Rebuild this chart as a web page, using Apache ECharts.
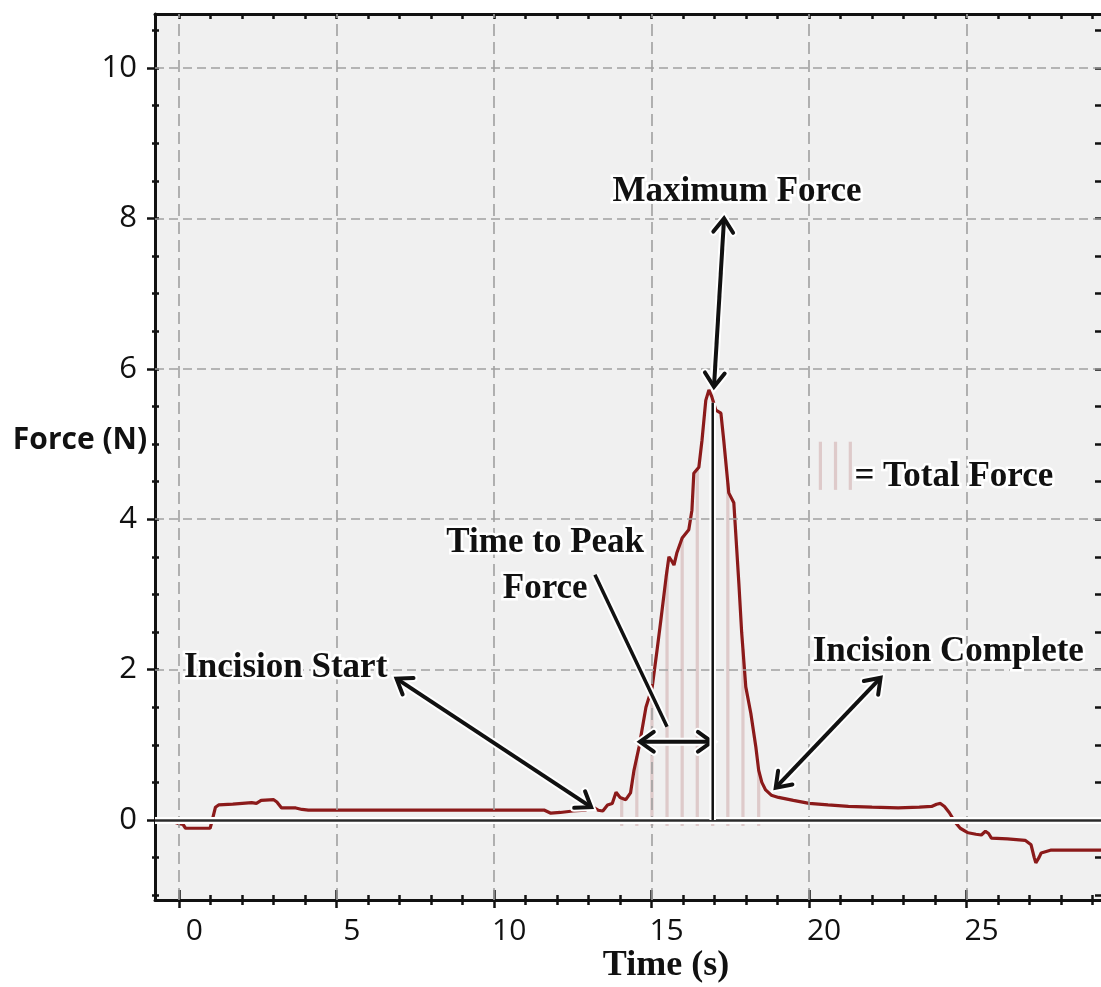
<!DOCTYPE html>
<html>
<head>
<meta charset="utf-8">
<title>Force (N) vs Time (s)</title>
<script src="https://cdn.jsdelivr.net/npm/echarts@6/dist/echarts.min.js"></script>
<style>
  html, body { margin: 0; padding: 0; background: #ffffff; }
  #chart { width: 1101px; height: 987px; }
</style>
</head>
<body>
<div id="chart"></div>
<script>
// ---- Recorded force trace (time in s, force in N) ----
const timeS = [
  -0.77, -0.45, -0.15, 0.0, 0.12, 0.2, 0.98, 1.05, 1.15, 1.25,
  1.7, 2.0, 2.3, 2.45, 2.6, 3.0, 3.1, 3.25, 3.7, 3.9,
  4.1, 11.6, 11.8, 12.1, 12.5, 12.9, 13.1, 13.3, 13.45, 13.6,
  13.75, 13.87, 14.0, 14.18, 14.33, 14.44, 14.6, 14.82, 15.02, 15.17,
  15.3, 15.46, 15.55, 15.63, 15.71, 15.8, 15.97, 16.18, 16.28, 16.34,
  16.5, 16.6, 16.72, 16.82, 16.91, 17.04, 17.2, 17.29, 17.45, 17.61,
  17.67, 17.77, 17.86, 17.99, 18.15, 18.31, 18.4, 18.5, 18.62, 18.8,
  19.03, 19.5, 20.0, 20.6, 21.25, 22.0, 22.83, 23.5, 23.89, 24.05,
  24.17, 24.3, 24.45, 24.64, 24.8, 25.05, 25.3, 25.47, 25.6, 25.7,
  25.79, 26.3, 26.86, 27.05, 27.15, 27.2, 27.3, 27.37, 27.69, 29.27
];
const forceN = [
  0.02, 0.0, -0.03, -0.05, -0.06, -0.11, -0.11, 0.0, 0.17, 0.2,
  0.21, 0.22, 0.23, 0.22, 0.26, 0.27, 0.24, 0.16, 0.16, 0.14,
  0.13, 0.13, 0.09, 0.1, 0.12, 0.13, 0.18, 0.13, 0.12, 0.2,
  0.22, 0.37, 0.3, 0.27, 0.36, 0.66, 0.97, 1.5, 1.77, 2.25,
  2.68, 3.23, 3.5, 3.45, 3.39, 3.55, 3.75, 3.86, 4.12, 4.61,
  4.69, 5.05, 5.58, 5.72, 5.63, 5.45, 5.41, 5.05, 4.35, 4.22,
  3.82, 3.15, 2.49, 1.77, 1.42, 0.97, 0.66, 0.5, 0.4, 0.33,
  0.3, 0.26, 0.22, 0.2, 0.18, 0.17, 0.16, 0.17, 0.18, 0.21,
  0.22, 0.18, 0.1, -0.03, -0.11, -0.17, -0.19, -0.2, -0.15, -0.18,
  -0.24, -0.25, -0.27, -0.33, -0.5, -0.57, -0.5, -0.44, -0.4, -0.4
];

// ---- "Total Force" hatching under the peak: time, force reached, foot ----
const hatchTimes  = [14.05, 14.53, 15.01, 15.49, 15.97, 16.45, 16.94, 17.42, 17.9, 18.4];
const hatchTops   = [0.29, 0.85, 1.76, 3.32, 3.75, 4.67, 5.58, 4.48, 2.27, 0.66];
const hatchFoot   = -0.08;

// ---- Axis ticks ----
const xMajorTicks = [0, 5, 10, 15, 20, 25];
const xMinorTicks = [0, 1, 2, 3, 4, 5, 6, 7, 8, 9, 10, 11, 12, 13, 14, 15, 16, 17, 18, 19, 20, 21, 22, 23, 24, 25, 26, 27, 28, 29];
const yMajorTicks = [0, 2, 4, 6, 8, 10];
const yMinorTicks = [-1, -0.5, 0, 0.5, 1, 1.5, 2, 2.5, 3, 3.5, 4, 4.5, 5, 5.5, 6, 6.5, 7, 7.5, 8, 8.5, 9, 9.5, 10, 10.5];

const X_MIN = -0.77, X_MAX = 29.27;
const Y_MIN = -1.064, Y_MAX = 10.718;

// ---- Annotation arrows: [t1, f1, t2, f2, headAtStart, headAtEnd, width] ----
const arrowSegments = [
  [17.30, 8.00, 16.98, 5.76, 1, 1, 4],   // Maximum Force
  [6.90, 1.88, 13.08, 0.17, 1, 1, 4],    // Incision Start
  [13.20, 3.26, 15.49, 1.24, 0, 0, 3.5], // Time to Peak leader
  [14.63, 1.04, 16.91, 1.04, 1, 1, 4],   // Time to Peak span
  [22.27, 1.89, 18.94, 0.43, 1, 1, 4],   // Incision Complete
  [16.94, 0.0, 16.94, 5.55, 0, 0, 2.5]   // peak marker
];

// ---- Annotation texts ----
const noteTexts  = ['Maximum Force', 'Time to Peak\nForce', 'Incision Start', 'Incision Complete', '= Total Force'];
const noteTimes  = [17.71, 11.62, 3.38, 24.42, 21.44];
const noteForces = [8.35, 3.38, 2.02, 2.23, 4.56];
const noteAligns = ['center', 'center', 'center', 'center', 'left'];

// ---- Key glyph for the hatching: [t, top, bottom] ----
const keyLines = [[20.36, 5.03, 4.39], [20.84, 5.03, 4.39], [21.31, 5.03, 4.39]];

const INK = '#111111';
const SERIF = '"Liberation Serif", "Times New Roman", serif';
const SANS = '"Open Sans", "Liberation Sans", sans-serif';

function chevron(tip, from, len, ang) {
  const dx = tip[0] - from[0], dy = tip[1] - from[1];
  const L = Math.hypot(dx, dy) || 1;
  const bx = -dx / L, by = -dy / L;
  const c = Math.cos(ang), s = Math.sin(ang);
  const a = [tip[0] + len * (bx * c - by * s), tip[1] + len * (bx * s + by * c)];
  const b = [tip[0] + len * (bx * c + by * s), tip[1] + len * (-bx * s + by * c)];
  return [a, tip.slice(), b];
}

function renderArrow(params, api) {
  const row = arrowSegments[params.dataIndex];
  const p1 = api.coord([api.value(0), api.value(1)]);
  const p2 = api.coord([api.value(2), api.value(3)]);
  const w = row[6];
  const heads = [];
  if (row[4]) heads.push(chevron(p1, p2, 17, 0.62));
  if (row[5]) heads.push(chevron(p2, p1, 17, 0.62));
  const children = [];
  [['#ffffff', w + 4], [INK, w]].forEach(([col, lw]) => {
    children.push({
      type: 'line',
      shape: { x1: p1[0], y1: p1[1], x2: p2[0], y2: p2[1] },
      style: { stroke: col, lineWidth: lw, lineCap: 'butt' }
    });
    heads.forEach(pts => children.push({
      type: 'polyline',
      shape: { points: pts },
      style: { stroke: col, lineWidth: lw, fill: null, lineJoin: 'miter', lineCap: 'round' }
    }));
  });
  return { type: 'group', children };
}

function renderHatch(params, api) {
  const top = api.coord([api.value(0), api.value(1)]);
  const bot = api.coord([api.value(0), api.value(2)]);
  return {
    type: 'line',
    shape: { x1: top[0], y1: top[1], x2: bot[0], y2: bot[1] },
    style: { stroke: 'rgba(185, 120, 122, 0.32)', lineWidth: 3.2 }
  };
}

function renderNote(params, api) {
  const i = params.dataIndex;
  const p = api.coord([api.value(0), api.value(1)]);
  return {
    type: 'text',
    x: p[0],
    y: p[1],
    style: {
      text: noteTexts[i],
      font: 'bold 35px ' + SERIF,
      fill: INK,
      stroke: '#ffffff',
      lineWidth: 5,
      align: noteAligns[i],
      verticalAlign: 'middle',
      lineHeight: 46
    }
  };
}

const curve = timeS.map((t, i) => [t, forceN[i]]);
const hatchData = hatchTimes.map((t, i) => [t, hatchTops[i], hatchFoot]);
const noteData = noteTimes.map((t, i) => [t, noteForces[i]]);

function xAxisBase(extra) {
  return Object.assign({
    type: 'value', gridIndex: 0, min: X_MIN, max: X_MAX, position: 'bottom',
    axisLine: { show: false, onZero: false },
    axisTick: { show: false },
    axisLabel: { show: false },
    splitLine: { show: false }
  }, extra);
}
function yAxisBase(extra) {
  return Object.assign({
    type: 'value', gridIndex: 0, min: Y_MIN, max: Y_MAX, position: 'left',
    axisLine: { show: false, onZero: false },
    axisTick: { show: false },
    axisLabel: { show: false },
    splitLine: { show: false }
  }, extra);
}
const tickStyle = { color: INK, width: 2.5 };

const option = {
  backgroundColor: '#ffffff',
  animation: false,
  grid: {
    left: 155, right: -2, top: 14, bottom: 87,
    show: true, backgroundColor: '#f0f0f0', borderWidth: 0
  },
  xAxis: [
    xAxisBase({
      axisLine: { show: true, onZero: false, lineStyle: { color: INK, width: 3 } },
      axisTick: { show: true, customValues: xMajorTicks, length: 8, lineStyle: tickStyle },
      axisLabel: {
        show: true, customValues: xMajorTicks, margin: 16, padding: [0, 0, 0, 30],
        fontFamily: SANS, fontSize: 30, color: INK
      }
    }),
    xAxisBase({ axisTick: { show: true, customValues: xMajorTicks, inside: true, length: 10, lineStyle: tickStyle } }),
    xAxisBase({ axisTick: { show: true, customValues: xMinorTicks, inside: true, length: 5, lineStyle: tickStyle } }),
    xAxisBase({ axisTick: { show: true, customValues: xMinorTicks, length: 5, lineStyle: tickStyle } }),
    xAxisBase({
      position: 'top',
      axisLine: { show: true, onZero: false, lineStyle: { color: INK, width: 3 } },
      axisTick: { show: true, customValues: xMinorTicks, inside: true, length: 5, lineStyle: tickStyle }
    })
  ],
  yAxis: [
    yAxisBase({
      axisLine: { show: true, onZero: false, lineStyle: { color: INK, width: 3 } },
      axisTick: { show: true, customValues: yMajorTicks, length: 8, lineStyle: tickStyle },
      axisLabel: {
        show: true, customValues: yMajorTicks, margin: 18,
        fontFamily: SANS, fontSize: 31, color: INK
      }
    }),
    yAxisBase({ axisTick: { show: true, customValues: yMinorTicks, inside: true, length: 4, lineStyle: tickStyle } }),
    yAxisBase({ axisTick: { show: true, customValues: yMinorTicks, length: 3, lineStyle: tickStyle } }),
    yAxisBase({
      position: 'right',
      axisTick: { show: true, customValues: yMinorTicks, inside: true, length: 6, lineStyle: tickStyle }
    })
  ],
  graphic: [
    {
      type: 'text', x: 80, y: 440, z: 10,
      style: { text: 'Force (N)', font: 'bold 30px ' + SANS, fill: INK, align: 'center', verticalAlign: 'middle' }
    },
    {
      type: 'text', x: 666, y: 966, z: 10,
      style: { text: 'Time (s)', font: 'bold 36px ' + SERIF, fill: INK, align: 'center', verticalAlign: 'middle' }
    }
  ],
  series: [
    {
      // dashed grid and the zero reference line
      type: 'line', xAxisIndex: 0, yAxisIndex: 0, data: [], z: 1, silent: true,
      markLine: {
        silent: true, symbol: 'none', label: { show: false }, animation: false,
        data: [
          ...xMajorTicks.map(v => ({ xAxis: v, lineStyle: { type: [12, 6], color: '#a0a0a0', width: 1.6 } })),
          ...yMajorTicks.filter(v => v !== 0).map(v => ({ yAxis: v, lineStyle: { type: [9, 5], color: '#a0a0a0', width: 1.6 } })),
          { yAxis: 0, lineStyle: { type: 'solid', color: '#ffffff', width: 7 } },
          { yAxis: 0, lineStyle: { type: 'solid', color: '#2b2b2b', width: 2.5 } }
        ]
      }
    },
    {
      name: 'Total Force', type: 'custom', xAxisIndex: 0, yAxisIndex: 0, z: 2,
      renderItem: renderHatch, data: hatchData, encode: { x: 0, y: [1, 2] }, silent: true
    },
    {
      name: 'Force', type: 'line', xAxisIndex: 0, yAxisIndex: 0, z: 3,
      data: curve, showSymbol: false, symbol: 'none',
      lineStyle: { color: '#8b1a1a', width: 3.2 }
    },
    {
      type: 'custom', xAxisIndex: 0, yAxisIndex: 0, z: 4,
      renderItem: renderHatch, data: keyLines, encode: { x: 0, y: [1, 2] }, silent: true
    },
    {
      type: 'custom', xAxisIndex: 0, yAxisIndex: 0, z: 5,
      renderItem: renderArrow, data: arrowSegments, encode: { x: [0, 2], y: [1, 3] }, silent: true
    },
    {
      type: 'custom', xAxisIndex: 0, yAxisIndex: 0, z: 6,
      renderItem: renderNote, data: noteData, encode: { x: 0, y: 1 }, silent: true
    }
  ]
};

const chart = echarts.init(document.getElementById('chart'), null, { renderer: 'canvas' });
chart.setOption(option);
</script>
</body>
</html>
